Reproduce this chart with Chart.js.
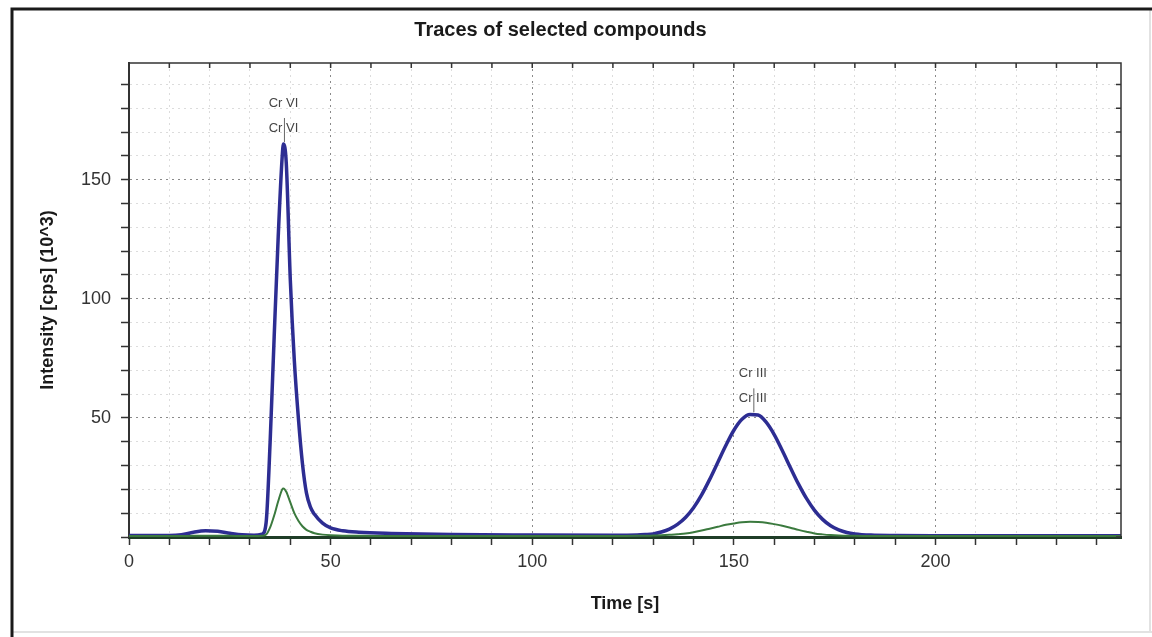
<!DOCTYPE html>
<html>
<head>
<meta charset="utf-8">
<title>Traces of selected compounds</title>
<script src="https://cdn.jsdelivr.net/npm/chart.js@4.4.1/dist/chart.umd.min.js"></script>
<style>
  body { margin: 0; background: #fff; }
  #wrap { width: 1152px; height: 637px; }
</style>
</head>
<body>
<div id="wrap"><canvas id="traces" width="1152" height="637"></canvas></div>
<script>
// Data (time in s, intensity in 10^3 cps)
const timeS = [0, 5, 10, 13, 16, 19, 22, 25, 28, 31, 33, 34, 35, 36, 37, 38, 38.3, 39, 40, 41,
  42, 43, 44, 45, 46, 48, 50, 53, 57, 65, 80, 100, 120,
  126, 128, 130, 132, 134, 136, 138, 140, 142, 144, 146, 148, 150, 152, 154, 156, 158,
  160, 162, 164, 166, 168, 170, 172, 174, 176, 178, 180, 184, 190, 200, 246];
const crBlue = [0.6, 0.6, 0.6, 0.9, 2.0, 2.6, 2.4, 1.6, 0.9, 0.7, 1.2, 6, 40, 84, 126, 160, 165, 157, 108, 74,
  50, 31, 18.5, 12.5, 9.5, 5.8, 3.8, 2.6, 2.0, 1.5, 1.0, 0.8, 0.7,
  0.8, 1.0, 1.3, 2.1, 3.3, 5.3, 8.2, 12.3, 17.7, 24.2, 31.3, 38.4, 44.8, 49.4, 51.4, 51.2, 48.2,
  43.0, 36.3, 29.2, 22.3, 16.2, 11.2, 7.4, 4.7, 3.0, 1.9, 1.3, 0.8, 0.6, 0.5, 0.5];
const crGreen = [0.4, 0.4, 0.4, 0.4, 0.5, 0.5, 0.5, 0.5, 0.4, 0.4, 0.5, 1, 4, 9, 15, 20, 20.4, 19, 14.5, 10,
  6.8, 4.5, 3, 2.2, 1.6, 1, 0.7, 0.5, 0.5, 0.4, 0.4, 0.4, 0.4,
  0.5, 0.5, 0.6, 0.7, 0.9, 1.2, 1.5, 2.0, 2.7, 3.5, 4.3, 5.1, 5.7, 6.2, 6.4, 6.3, 6.0,
  5.4, 4.7, 3.9, 3.0, 2.2, 1.5, 1.1, 0.8, 0.6, 0.5, 0.5, 0.4, 0.4, 0.4, 0.4];

// peak annotations
const peakLabels = ["Cr VI", "Cr III"];
const peakTimes = [38.3, 154.7];
const peakHeights = [165, 51.5];

function toXY(xs, ys) {
  return xs.map((x, i) => ({ x: x, y: ys[i] }));
}

const FONT = "'Liberation Sans', Arial, sans-serif";

// Frame, plot box, inward ticks on top/right, peak labels
const decorPlugin = {
  id: "decor",
  beforeDraw(chart) {
    const c = chart.ctx;
    c.save();
    c.strokeStyle = "#e2e2e2";
    c.lineWidth = 2;
    c.beginPath();
    c.moveTo(12, 632); c.lineTo(1152, 632);
    c.moveTo(1150, 9); c.lineTo(1150, 632);
    c.stroke();
    c.strokeStyle = "#1a1a1a";
    c.lineWidth = 3;
    c.beginPath();
    c.moveTo(12, 637); c.lineTo(12, 9); c.lineTo(1152, 9);
    c.stroke();
    c.restore();
  },
  afterDatasetsDraw(chart) {
    const c = chart.ctx;
    const a = chart.chartArea;
    const xs = chart.scales.x, ys = chart.scales.y;
    c.save();
    c.strokeStyle = "#333";
    c.lineWidth = 1.5;
    c.beginPath();
    c.moveTo(a.left, a.top); c.lineTo(a.right, a.top); c.lineTo(a.right, a.bottom);
    c.stroke();
    c.beginPath();
    xs.ticks.forEach(t => {
      const px = xs.getPixelForValue(t.value);
      c.moveTo(px, a.top); c.lineTo(px, a.top + 5);
    });
    ys.ticks.forEach(t => {
      const py = ys.getPixelForValue(t.value);
      c.moveTo(a.right, py); c.lineTo(a.right - 5, py);
    });
    c.stroke();

    // peak labels
    c.font = "13px " + FONT;
    c.fillStyle = "#444";
    c.textAlign = "center";
    c.textBaseline = "middle";
    peakLabels.forEach((lab, i) => {
      const px = xs.getPixelForValue(peakTimes[i]);
      const py = ys.getPixelForValue(peakHeights[i]);
      c.fillText(lab, px, py - 41);
      c.fillText(lab, px, py - 16);
      c.strokeStyle = "#666";
      c.lineWidth = 1;
      c.beginPath();
      c.moveTo(px + 1, py - 26); c.lineTo(px + 1, py - 2);
      c.stroke();
    });
    c.restore();
  }
};

const ctx = document.getElementById("traces");
new Chart(ctx, {
  type: "line",
  data: {
    datasets: [
      {
        label: "Cr (green)",
        data: toXY(timeS, crGreen),
        borderColor: "#3b7a3e",
        borderWidth: 2,
        pointRadius: 0,
        cubicInterpolationMode: "monotone",
      },
      {
        label: "Cr (blue)",
        data: toXY(timeS, crBlue),
        borderColor: "#2d2d92",
        borderWidth: 3.5,
        pointRadius: 0,
        cubicInterpolationMode: "monotone",
      },
    ],
  },
  options: {
    responsive: false,
    animation: false,
    layout: { padding: { left: 0, right: 31, top: 0, bottom: 0 } },
    plugins: {
      legend: { display: false },
      tooltip: { enabled: false },
      title: {
        display: true,
        text: "Traces of selected compounds",
        color: "#1a1a1a",
        font: { family: FONT, size: 20, weight: "bold", lineHeight: 1.2 },
        padding: { top: 18, bottom: 21 },
      },
    },
    scales: {
      x: {
        type: "linear",
        min: 0,
        max: 246,
        afterFit: (s) => { s.height = 100; },
        ticks: {
          stepSize: 10,
          autoSkip: false,
          includeBounds: false,
          maxRotation: 0,
          padding: 6,
          color: "#333",
          font: { family: FONT, size: 18 },
          callback: (v) => (v % 50 === 0 ? v : ""),
        },
        grid: {
          color: (cx) => (cx.tick && cx.tick.value % 50 === 0 ? "#8a8a8a" : "#dcdcdc"),
          lineWidth: 1,
          tickLength: 8,
          tickColor: "#333",
          tickWidth: 1.5,
        },
        border: { color: "#1f3d27", width: 3, dash: [2, 4] },
        title: {
          display: true,
          text: "Time [s]",
          color: "#1a1a1a",
          font: { family: FONT, size: 18, weight: "bold" },
          padding: { top: 0, bottom: 22 },
        },
      },
      y: {
        min: 0,
        max: 199,
        afterFit: (s) => { s.width = 129; },
        ticks: {
          stepSize: 10,
          autoSkip: false,
          includeBounds: false,
          padding: 10,
          color: "#333",
          font: { family: FONT, size: 18 },
          callback: (v) => (v % 50 === 0 && v !== 0 ? v : ""),
        },
        grid: {
          color: (cx) => (cx.tick && cx.tick.value % 50 === 0 ? "#8a8a8a" : "#dcdcdc"),
          lineWidth: 1,
          tickLength: 8,
          tickColor: "#333",
          tickWidth: 1.5,
        },
        border: { color: "#333", width: 2, dash: [2, 4] },
        title: {
          display: true,
          text: "Intensity [cps] (10^3)",
          color: "#1a1a1a",
          font: { family: FONT, size: 18, weight: "bold" },
          padding: { top: 37, bottom: 0 },
        },
      },
    },
  },
  plugins: [decorPlugin],
});
</script>
</body>
</html>
